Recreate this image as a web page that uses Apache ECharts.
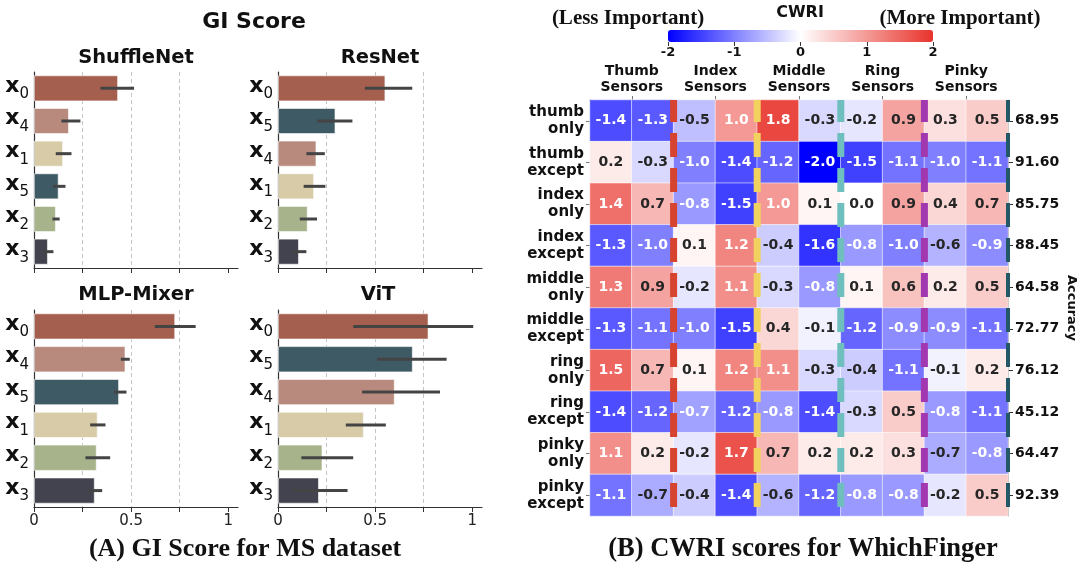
<!DOCTYPE html>
<html><head><meta charset="utf-8">
<script src="https://cdn.jsdelivr.net/npm/echarts@6/dist/echarts.min.js"></script>
<style>html,body{margin:0;padding:0;background:#fff}#c{width:1080px;height:566px}</style>
</head><body><div id="c"></div>
<script>
// ---------- Panel A data ----------
const modelNames = ['ShuffleNet', 'ResNet', 'MLP-Mixer', 'ViT'];
const featShuffle = ['0', '4', '1', '5', '2', '3'];
const valShuffle = [0.433, 0.180, 0.150, 0.127, 0.113, 0.072];
const errShuffle = [[0.342, 0.515], [0.141, 0.239], [0.112, 0.193], [0.098, 0.162], [0.095, 0.132], [0.052, 0.100]];
const featResNet = ['0', '5', '4', '1', '2', '3'];
const valResNet = [0.553, 0.296, 0.198, 0.186, 0.153, 0.108];
const errResNet = [[0.447, 0.691], [0.201, 0.383], [0.146, 0.241], [0.132, 0.244], [0.112, 0.201], [0.069, 0.146]];
const featMixer = ['0', '4', '5', '1', '2', '3'];
const valMixer = [0.727, 0.471, 0.438, 0.328, 0.323, 0.313];
const errMixer = [[0.622, 0.832], [0.447, 0.493], [0.412, 0.476], [0.289, 0.368], [0.265, 0.392], [0.273, 0.351]];
const featViT = ['0', '5', '4', '1', '2', '3'];
const valViT = [0.775, 0.694, 0.601, 0.442, 0.229, 0.211];
const errViT = [[0.387, 1.005], [0.510, 0.868], [0.433, 0.834], [0.349, 0.555], [0.120, 0.387], [0.069, 0.358]];
const featColors = {'0': '#a45f4f', '4': '#b88a7d', '1': '#d8cba8', '5': '#3e5a64', '2': '#a7b38b', '3': '#42434f'};
const giTicks = [0, 0.25, 0.5, 0.75, 1];
const giLabels = [0, 0.5, 1];

// ---------- Panel B data ----------
const rowLabels = ['thumb\nonly', 'thumb\nexcept', 'index\nonly', 'index\nexcept', 'middle\nonly', 'middle\nexcept', 'ring\nonly', 'ring\nexcept', 'pinky\nonly', 'pinky\nexcept'];
const groupLabels = ['Thumb\nSensors', 'Index\nSensors', 'Middle\nSensors', 'Ring\nSensors', 'Pinky\nSensors'];
const sensorCols = ['t1', 't2', 'i1', 'i2', 'm1', 'm2', 'r1', 'r2', 'p1', 'p2'];
const accuracy = ['68.95', '91.60', '85.75', '88.45', '64.58', '72.77', '76.12', '45.12', '64.47', '92.39'];
const cwri = [
  [-1.4, -1.3, -0.5, 1.0, 1.8, -0.3, -0.2, 0.9, 0.3, 0.5],
  [0.2, -0.3, -1.0, -1.4, -1.2, -2.0, -1.5, -1.1, -1.0, -1.1],
  [1.4, 0.7, -0.8, -1.5, 1.0, 0.1, 0.0, 0.9, 0.4, 0.7],
  [-1.3, -1.0, 0.1, 1.2, -0.4, -1.6, -0.8, -1.0, -0.6, -0.9],
  [1.3, 0.9, -0.2, 1.1, -0.3, -0.8, 0.1, 0.6, 0.2, 0.5],
  [-1.3, -1.1, -1.0, -1.5, 0.4, -0.1, -1.2, -0.9, -0.9, -1.1],
  [1.5, 0.7, 0.1, 1.2, 1.1, -0.3, -0.4, -1.1, -0.1, 0.2],
  [-1.4, -1.2, -0.74, -1.2, -0.8, -1.4, -0.3, 0.5, -0.8, -1.1],
  [1.1, 0.2, -0.2, 1.7, 0.7, 0.2, 0.2, 0.3, -0.66, -0.8],
  [-1.1, -0.66, -0.4, -1.4, -0.6, -1.2, -0.8, -0.8, -0.2, 0.5]
];
const stripPos = [2, 4, 6, 8, 10];
const stripColors = ['#d6442f', '#f1d25e', '#6fbfbf', '#a238b0', '#235966'];
const cmapColors = ['#0000ff', '#ffffff', '#e8332b'];

const FONT = 'DejaVu Sans';
const chart = echarts.init(document.getElementById('c'), null, {renderer: 'canvas'});

const panels = [
  {feat: featShuffle, val: valShuffle, err: errShuffle, left: 34, top: 72, h: 196, labels: false},
  {feat: featResNet, val: valResNet, err: errResNet, left: 278, top: 72, h: 196, labels: false},
  {feat: featMixer, val: valMixer, err: errMixer, left: 34, top: 310, h: 197, labels: true},
  {feat: featViT, val: valViT, err: errViT, left: 278, top: 310, h: 197, labels: true}
];

const grids = [], xAxes = [], yAxes = [], series = [];
panels.forEach((p, i) => {
  grids.push({left: p.left, top: p.top, width: 204, height: p.h, containLabel: false});
  xAxes.push({
    type: 'value', gridIndex: i, min: 0, max: 1.05, interval: 0.25,
    axisLine: {show: true, lineStyle: {color: '#333', width: 1.2}},
    axisTick: {show: true, length: 5, customValues: giTicks, lineStyle: {color: '#333'}},
    axisLabel: {show: p.labels, customValues: giLabels, fontFamily: FONT, fontSize: 15, color: '#222', margin: 7,
      formatter: v => String(v)},
    splitLine: {show: true, showMinLine: false, showMaxLine: false, lineStyle: {type: [4, 3], color: '#c4c4c4', width: 1}}
  });
  yAxes.push({
    type: 'category', gridIndex: i, inverse: true, data: p.feat,
    axisLine: {show: true, lineStyle: {color: '#333', width: 1.2}},
    axisTick: {show: false},
    axisLabel: {margin: 5, formatter: v => '{a|x}{b|' + v + '}',
      rich: {
        a: {fontFamily: FONT, fontWeight: 'bold', fontSize: 22, color: '#111', verticalAlign: 'bottom', padding: [0, 0, 5, 0]},
        b: {fontFamily: FONT, fontSize: 15, color: '#111', verticalAlign: 'bottom'}
      }},
    splitLine: {show: false}
  });
  series.push({
    type: 'bar', xAxisIndex: i, yAxisIndex: i, barCategoryGap: '20%', z: 2,
    data: p.val.map((v, k) => ({value: v, itemStyle: {color: featColors[p.feat[k]], borderColor: 'rgba(255,255,255,0.6)', borderWidth: 1}})),
    emphasis: {disabled: true}, silent: true
  });
});
panels.forEach((p, i) => {
  series.push({
    type: 'custom', xAxisIndex: i, yAxisIndex: i, z: 4, silent: true,
    encode: {x: [0, 1], y: 2},
    data: p.err.map((e, k) => [e[0], e[1], k]),
    renderItem: (params, api) => {
      const a = api.coord([api.value(0), api.value(2)]);
      const b = api.coord([api.value(1), api.value(2)]);
      return {type: 'line', shape: {x1: a[0], y1: a[1], x2: b[0], y2: b[1]}, style: {stroke: '#444', lineWidth: 3}};
    }
  });
});

// ---------- Heatmap ----------
const HG = 4;
grids.push({left: 590, top: 100, width: 418, height: 416});
const xCell = xAxes.length;
xAxes.push({type: 'category', gridIndex: HG, data: sensorCols, position: 'bottom',
  axisLine: {show: true, lineStyle: {color: '#999'}}, axisTick: {show: false}, axisLabel: {show: false}, splitLine: {show: false}});
xAxes.push({type: 'category', gridIndex: HG, data: groupLabels, position: 'top',
  axisLine: {show: true, lineStyle: {color: '#999'}},
  axisTick: {show: true, alignWithLabel: true, length: 4, lineStyle: {color: '#777'}},
  axisLabel: {fontFamily: FONT, fontWeight: 'bold', fontSize: 14, color: '#111', lineHeight: 16, margin: 5}, splitLine: {show: false}});
const xStrip = xAxes.length;
xAxes.push({type: 'value', gridIndex: HG, min: 0, max: 10, show: false});
const yRow = yAxes.length;
yAxes.push({type: 'category', gridIndex: HG, data: rowLabels, inverse: true, position: 'left',
  axisLine: {show: true, lineStyle: {color: '#999'}},
  axisTick: {show: true, alignWithLabel: true, length: 4, lineStyle: {color: '#777'}},
  axisLabel: {fontFamily: FONT, fontWeight: 'bold', fontSize: 15, color: '#111', lineHeight: 17, margin: 6, align: 'right'}, splitLine: {show: false}});
yAxes.push({type: 'category', gridIndex: HG, data: accuracy, inverse: true, position: 'right',
  axisLine: {show: true, lineStyle: {color: '#999'}},
  axisTick: {show: true, alignWithLabel: true, length: 5, lineStyle: {color: '#333'}},
  axisLabel: {fontFamily: FONT, fontWeight: 'bold', fontSize: 14, color: '#111', margin: 7},
  name: 'Accuracy', nameLocation: 'middle', nameRotate: -90, nameGap: 57,
  nameTextStyle: {fontFamily: FONT, fontWeight: 'bold', fontSize: 13, color: '#111'}, splitLine: {show: false}});
const yStrip = yAxes.length;
yAxes.push({type: 'value', gridIndex: HG, min: 0, max: 10, inverse: true, show: false});

// colorbar axis
const CG = 5;
grids.push({left: 668, top: 30, width: 265, height: 12});
xAxes.push({type: 'value', gridIndex: CG, min: -2, max: 2, interval: 1, position: 'bottom',
  axisLine: {show: false}, axisTick: {show: true, length: 4, lineStyle: {color: '#333'}},
  axisLabel: {fontFamily: FONT, fontWeight: 'bold', fontSize: 13, color: '#111', margin: 4}, splitLine: {show: false}});
yAxes.push({type: 'value', gridIndex: CG, show: false});

const heatData = [];
cwri.forEach((row, r) => row.forEach((v, c) => {
  const white = v >= 0.95 || v <= -0.7;
  heatData.push({value: [c, r, v], label: {color: white ? '#ffffff' : '#262626'}});
}));
const heatIndex = series.length;
series.push({
  type: 'heatmap', xAxisIndex: xCell, yAxisIndex: yRow, data: heatData, z: 2,
  itemStyle: {borderColor: 'rgba(255,255,255,0.55)', borderWidth: 1},
  label: {show: true, fontFamily: FONT, fontWeight: 'bold', fontSize: 14, formatter: p => p.value[2].toFixed(1)},
  emphasis: {disabled: true}, silent: true
});
stripPos.forEach((s, k) => {
  const last = k === stripPos.length - 1;
  series.push({
    type: 'line', xAxisIndex: xStrip, yAxisIndex: yStrip, data: [[s, 0], [s, 10]], z: 5, clip: false,
    symbol: 'none', silent: true,
    lineStyle: {color: stripColors[k], width: last ? 4 : 7, type: [24, 11], dashOffset: 2, cap: 'butt'}
  });
});

const option = {
  animation: false,
  backgroundColor: '#ffffff',
  grid: grids, xAxis: xAxes, yAxis: yAxes, series: series,
  visualMap: [{
    type: 'continuous', min: -2, max: 2, orient: 'horizontal', seriesIndex: heatIndex,
    left: 668, top: 30, padding: 0, itemWidth: 12, itemHeight: 265, calculable: false, hoverLink: false,
    text: null, showLabel: false, inRange: {color: cmapColors}
  }],
  graphic: [
    {type: 'text', x: 254, y: 22, style: {text: 'GI Score', font: 'bold 22px "DejaVu Sans"', fill: '#111', align: 'center', verticalAlign: 'middle'}},
    {type: 'text', x: 136, y: 58, style: {text: modelNames[0], font: 'bold 19.5px "DejaVu Sans"', fill: '#111', align: 'center', verticalAlign: 'middle'}},
    {type: 'text', x: 380, y: 58, style: {text: modelNames[1], font: 'bold 19.5px "DejaVu Sans"', fill: '#111', align: 'center', verticalAlign: 'middle'}},
    {type: 'text', x: 136, y: 295, style: {text: modelNames[2], font: 'bold 19.5px "DejaVu Sans"', fill: '#111', align: 'center', verticalAlign: 'middle'}},
    {type: 'text', x: 378, y: 295, style: {text: modelNames[3], font: 'bold 19.5px "DejaVu Sans"', fill: '#111', align: 'center', verticalAlign: 'middle'}},
    {type: 'text', x: 245, y: 549, style: {text: '(A) GI Score for MS dataset', font: 'bold 26px "Liberation Serif"', fill: '#111', align: 'center', verticalAlign: 'middle'}},
    {type: 'text', x: 803, y: 549, style: {text: '(B) CWRI scores for WhichFinger', font: 'bold 26.5px "Liberation Serif"', fill: '#111', align: 'center', verticalAlign: 'middle'}},
    {type: 'text', x: 800, y: 13, style: {text: 'CWRI', font: 'bold 16px "DejaVu Sans"', fill: '#111', align: 'center', verticalAlign: 'middle'}},
    {type: 'text', x: 628, y: 19, style: {text: '(Less Important)', font: 'bold 21px "Liberation Serif"', fill: '#111', align: 'center', verticalAlign: 'middle'}},
    {type: 'text', x: 960, y: 19, style: {text: '(More Important)', font: 'bold 21px "Liberation Serif"', fill: '#111', align: 'center', verticalAlign: 'middle'}}
  ]
};
chart.setOption(option);
</script>
</body></html>
